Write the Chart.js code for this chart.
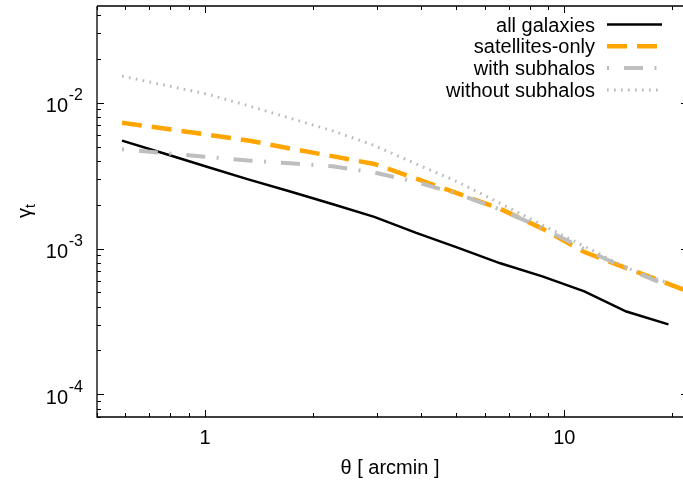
<!DOCTYPE html>
<html>
<head>
<meta charset="utf-8">
<script src="https://cdn.jsdelivr.net/npm/chart.js@4.4.1/dist/chart.umd.min.js"></script>
<style>
  html, body { margin: 0; padding: 0; background: #fff; }
</style>
</head>
<body>
<canvas id="chart" width="683" height="485"></canvas>
<script>
// angular bins [arcmin]
var theta    = [0.587, 0.769, 1.006, 1.318, 1.725, 2.258, 2.957, 3.870, 5.068, 6.633, 8.685, 11.37, 14.88, 19.49];
var thetaSat = [0.587, 0.769, 1.006, 1.318, 1.725, 2.258, 2.957, 3.870, 5.068, 6.633, 8.685, 11.37, 14.88, 19.49, 25.5];

// tangential shear gamma_t
var allGalaxies     = [5.49e-3, 4.48e-3, 3.65e-3, 2.98e-3, 2.46e-3, 2.02e-3, 1.65e-3, 1.28e-3, 1.01e-3, 7.92e-4, 6.45e-4, 5.08e-4, 3.70e-4, 3.02e-4];
var satellitesOnly  = [7.29e-3, 6.65e-3, 6.05e-3, 5.51e-3, 4.85e-3, 4.30e-3, 3.80e-3, 3.01e-3, 2.38e-3, 1.87e-3, 1.37e-3, 9.46e-4, 7.35e-4, 5.73e-4, 4.43e-4];
var withSubhalos    = [4.79e-3, 4.52e-3, 4.26e-3, 4.01e-3, 3.84e-3, 3.66e-3, 3.32e-3, 2.86e-3, 2.36e-3, 1.85e-3, 1.38e-3, 9.92e-4, 7.29e-4, 5.53e-4];
var withoutSubhalos = [1.52e-2, 1.32e-2, 1.15e-2, 9.54e-3, 7.83e-3, 6.43e-3, 5.09e-3, 3.80e-3, 2.85e-3, 2.04e-3, 1.45e-3, 1.035e-3, 7.38e-4, 5.80e-4];

var seriesLabels = ['all galaxies', 'satellites-only', 'with subhalos', 'without subhalos'];
var xTickLabels  = {1: '1', 10: '10'};
var yTickExp     = [-4, -3, -2];

var FONT = '"Liberation Sans", Arial, Helvetica, sans-serif';

function points(xs, ys) {
    return ys.map(function (y, i) { return {x: xs[i], y: y}; });
}

// decade + minor positions of a log axis, between min and max
function logTicks(min, max) {
    var out = [];
    for (var e = Math.floor(Math.log10(min)); e <= Math.ceil(Math.log10(max)); e++) {
        for (var m = 1; m <= 9; m++) {
            var v = m * Math.pow(10, e);
            if (v >= min * 0.999 && v <= max * 1.001) {
                out.push({v: v, major: m === 1});
            }
        }
    }
    return out;
}

// gnuplot-like frame: inward ticks, superscript labels, key inside the plot
var framePlugin = {
    id: 'frame',
    afterDraw: function (chart) {
        var ctx = chart.ctx, a = chart.chartArea;
        var xs = chart.scales.x, ys = chart.scales.y;
        var rightAxis = a.right + 5;
        ctx.save();

        ctx.strokeStyle = '#000';
        ctx.lineWidth = 1.3;
        ctx.beginPath();
        ctx.moveTo(a.left, a.top);
        ctx.lineTo(a.right + 10, a.top);
        ctx.moveTo(a.left, a.top);
        ctx.lineTo(a.left, a.bottom);
        ctx.lineTo(a.right + 10, a.bottom);
        ctx.stroke();

        ctx.lineWidth = 1;
        logTicks(xs.min, xs.max).forEach(function (t) {
            var px = Math.round(xs.getPixelForValue(t.v)) + 0.5;
            var len = t.major ? 7 : 4;
            ctx.beginPath();
            ctx.moveTo(px, a.bottom);
            ctx.lineTo(px, a.bottom - len);
            ctx.moveTo(px, a.top);
            ctx.lineTo(px, a.top + len);
            ctx.stroke();
        });
        logTicks(ys.min, ys.max).forEach(function (t) {
            var py = Math.round(ys.getPixelForValue(t.v)) + 0.5;
            var len = t.major ? 7 : 4;
            ctx.beginPath();
            ctx.moveTo(a.left, py);
            ctx.lineTo(a.left + len, py);
            ctx.moveTo(rightAxis, py);
            ctx.lineTo(rightAxis - len, py);
            ctx.stroke();
        });

        // y tick labels 10^e
        ctx.fillStyle = '#000';
        ctx.textAlign = 'right';
        ctx.textBaseline = 'alphabetic';
        yTickExp.forEach(function (e) {
            var py = ys.getPixelForValue(Math.pow(10, e));
            ctx.font = '20px ' + FONT;
            ctx.fillText('10', a.left - 29, py + 9.5);
            ctx.font = '16px ' + FONT;
            ctx.fillText('' + e, a.left - 14, py - 2.5);
        });

        // y axis title gamma_t
        ctx.save();
        ctx.translate(31, 218);
        ctx.rotate(-Math.PI / 2);
        ctx.textAlign = 'left';
        ctx.font = '20px ' + FONT;
        ctx.fillText('\u03b3', 0, 0);
        var w = ctx.measureText('\u03b3').width;
        ctx.font = '14px ' + FONT;
        ctx.fillText('t', w, 4);
        ctx.restore();

        // key
        var textRight = a.right - 88, l0 = a.right - 76, l1 = a.right - 21;
        chart.data.datasets.forEach(function (ds, i) {
            var y = a.top + 18.5 + i * 21.8;
            ctx.font = '20px ' + FONT;
            ctx.textAlign = 'right';
            ctx.fillStyle = '#000';
            ctx.fillText(ds.label, textRight, y + 7);
            ctx.strokeStyle = ds.borderColor;
            ctx.lineWidth = ds.borderWidth;
            ctx.setLineDash(ds.borderDash || []);
            ctx.beginPath();
            ctx.moveTo(l0, y);
            ctx.lineTo(l1, y);
            ctx.stroke();
        });
        ctx.restore();
    }
};

var chart = new Chart(document.getElementById('chart'), {
    type: 'line',
    data: {
        datasets: [
            {label: seriesLabels[0], data: points(theta, allGalaxies), borderColor: '#000000', borderWidth: 2.5, order: 3},
            {label: seriesLabels[1], data: points(thetaSat, satellitesOnly), borderColor: '#ffa500', borderWidth: 4.5, borderDash: [20, 10], order: 2},
            {label: seriesLabels[2], data: points(theta, withSubhalos), borderColor: '#bebebe', borderWidth: 4, borderDash: [2, 15, 19, 11.5], order: 1},
            {label: seriesLabels[3], data: points(theta, withoutSubhalos), borderColor: '#bbbbbb', borderWidth: 3, borderDash: [1.7, 5.3], order: 0}
        ]
    },
    options: {
        responsive: false,
        animation: false,
        layout: {autoPadding: false, padding: {top: 6, right: 0, bottom: 0, left: 0}},
        elements: {
            point: {radius: 0},
            line: {tension: 0, fill: false, borderCapStyle: 'butt'}
        },
        plugins: {
            legend: {display: false},
            tooltip: {enabled: false}
        },
        scales: {
            x: {
                type: 'logarithmic',
                min: 0.5,
                max: 21.4,
                grid: {display: false, drawTicks: false},
                border: {display: false},
                ticks: {
                    autoSkip: false,
                    maxRotation: 0,
                    padding: 9,
                    color: '#000',
                    font: {family: FONT, size: 20},
                    callback: function (v) { return xTickLabels[v] || ''; }
                },
                title: {
                    display: true,
                    text: '\u03b8 [ arcmin ]',
                    color: '#000',
                    font: {family: FONT, size: 20},
                    padding: {top: 0, bottom: 5}
                },
                afterFit: function (s) {
                    s.height = 68;
                    s.paddingLeft = 0;
                    s.paddingRight = 0;
                }
            },
            y: {
                type: 'logarithmic',
                min: 7e-5,
                max: 0.046,
                grid: {display: false, drawTicks: false},
                border: {display: false},
                ticks: {display: false},
                afterFit: function (s) {
                    s.width = 97;
                    s.paddingTop = 0;
                    s.paddingBottom = 0;
                }
            }
        }
    },
    plugins: [framePlugin]
});
</script>
</body>
</html>
